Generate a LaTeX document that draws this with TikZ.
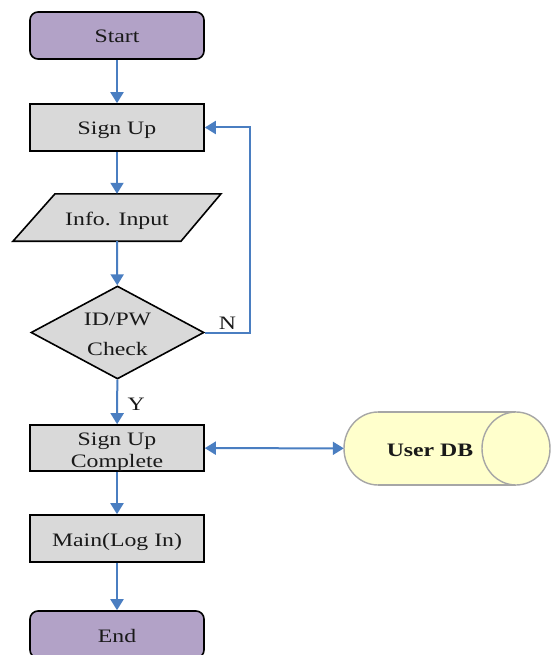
\documentclass[tikz,border=0pt]{standalone}
\usepackage{fontspec}
\setmainfont{Liberation Serif}[FakeStretch=1.25]
\usetikzlibrary{arrows.meta,shapes.geometric,backgrounds}
\definecolor{arrowblue}{RGB}{74,126,193}
\definecolor{termfill}{RGB}{178,162,199}
\definecolor{boxfill}{RGB}{217,217,217}
\definecolor{dbfill}{RGB}{255,255,204}
\definecolor{dbline}{RGB}{166,166,166}
\tikzset{
  txt/.style={font=\fontsize{19}{22}\selectfont, text=black!90},
  one/.style={text height=16pt, text depth=1pt},
  term/.style={txt, one, draw=black, line width=1.6pt, fill=termfill, rounded corners=8pt, minimum width=174pt, minimum height=47pt, inner sep=0pt},
  procbox/.style={txt, draw=black, line width=1.6pt, fill=boxfill, minimum width=174pt, minimum height=47pt, inner sep=0pt, align=center},
  inbox/.style={txt, one, minimum width=167pt, minimum height=47pt, inner sep=0pt},
  decbox/.style={draw=black, line width=1.6pt, fill=boxfill, diamond, minimum width=173pt, minimum height=93pt, inner sep=0pt},
  dectext/.style={txt, align=center, inner sep=0pt, yshift=-2pt},
  dbbox/.style={txt, one, minimum width=206pt, minimum height=73pt, inner sep=0pt},
  dbshape/.style={draw=dbline, line width=1.4pt, fill=dbfill},
  arr/.style={draw=arrowblue, line width=2pt, -{Triangle[length=11pt,width=13pt]}},
  darr/.style={draw=arrowblue, line width=2pt, {Triangle[length=11pt,width=13pt]}-{Triangle[length=11pt,width=13pt]}},
  lbl/.style={txt}
}
\begin{document}
\begin{tikzpicture}[x=1pt,y=-1pt]
\useasboundingbox (0,0) rectangle (551,655);
\node[term] (start) at (117,35.5) {Start};
\node[procbox, one] (signup) at (117,127.5) {Sign Up};
\node[inbox] (info) at (117,217.5) {Info. Input};
\node[decbox, label={[dectext]center:ID/PW\\[7.5pt]Check}] (check) at (117.5,332.5) {};
\node[procbox, minimum height=46pt, text height=38pt, text depth=0pt] (complete) at (117,448) {Sign Up\\Complete};
\node[procbox, one] (main) at (117,538.5) {Main(Log In)};
\node[term] (end) at (117,634.5) {End};
\node[dbbox] (db) at (447,448.5) {\hspace*{-34pt}\textbf{User DB}};
\begin{scope}[on background layer]
\filldraw[draw=black, line width=1.6pt, fill=boxfill] ([xshift=-104pt]info.south) -- ([xshift=64pt]info.south) -- ([xshift=104pt]info.north) -- ([xshift=-62pt]info.north) -- cycle;
\filldraw[dbshape] (378,448.5) ellipse [x radius=34pt, y radius=36.5pt];
\fill[dbfill] (378,412) rectangle (516,485);
\draw[dbshape, fill=none] (378,412) -- (516,412) (378,485) -- (516,485);
\filldraw[dbshape] (516,448.5) ellipse [x radius=34pt, y radius=36.5pt];
\end{scope}
\coordinate (loop) at (250,332.5);
\draw[arr] (start) -- (signup);
\draw[arr] (signup) -- (info.north);
\draw[arr] (info.south) -- (check);
\draw[arr] (check) -- node[lbl, right, xshift=6pt, yshift=-2pt] {Y} (complete);
\draw[arr] (complete) -- (main);
\draw[arr] (main) -- (end);
\draw[darr] (complete) -- (db);
\draw[arr] (check.east) -- node[lbl, above, yshift=-1pt] {N} (loop) |- (signup.east);
\end{tikzpicture}
\end{document}
